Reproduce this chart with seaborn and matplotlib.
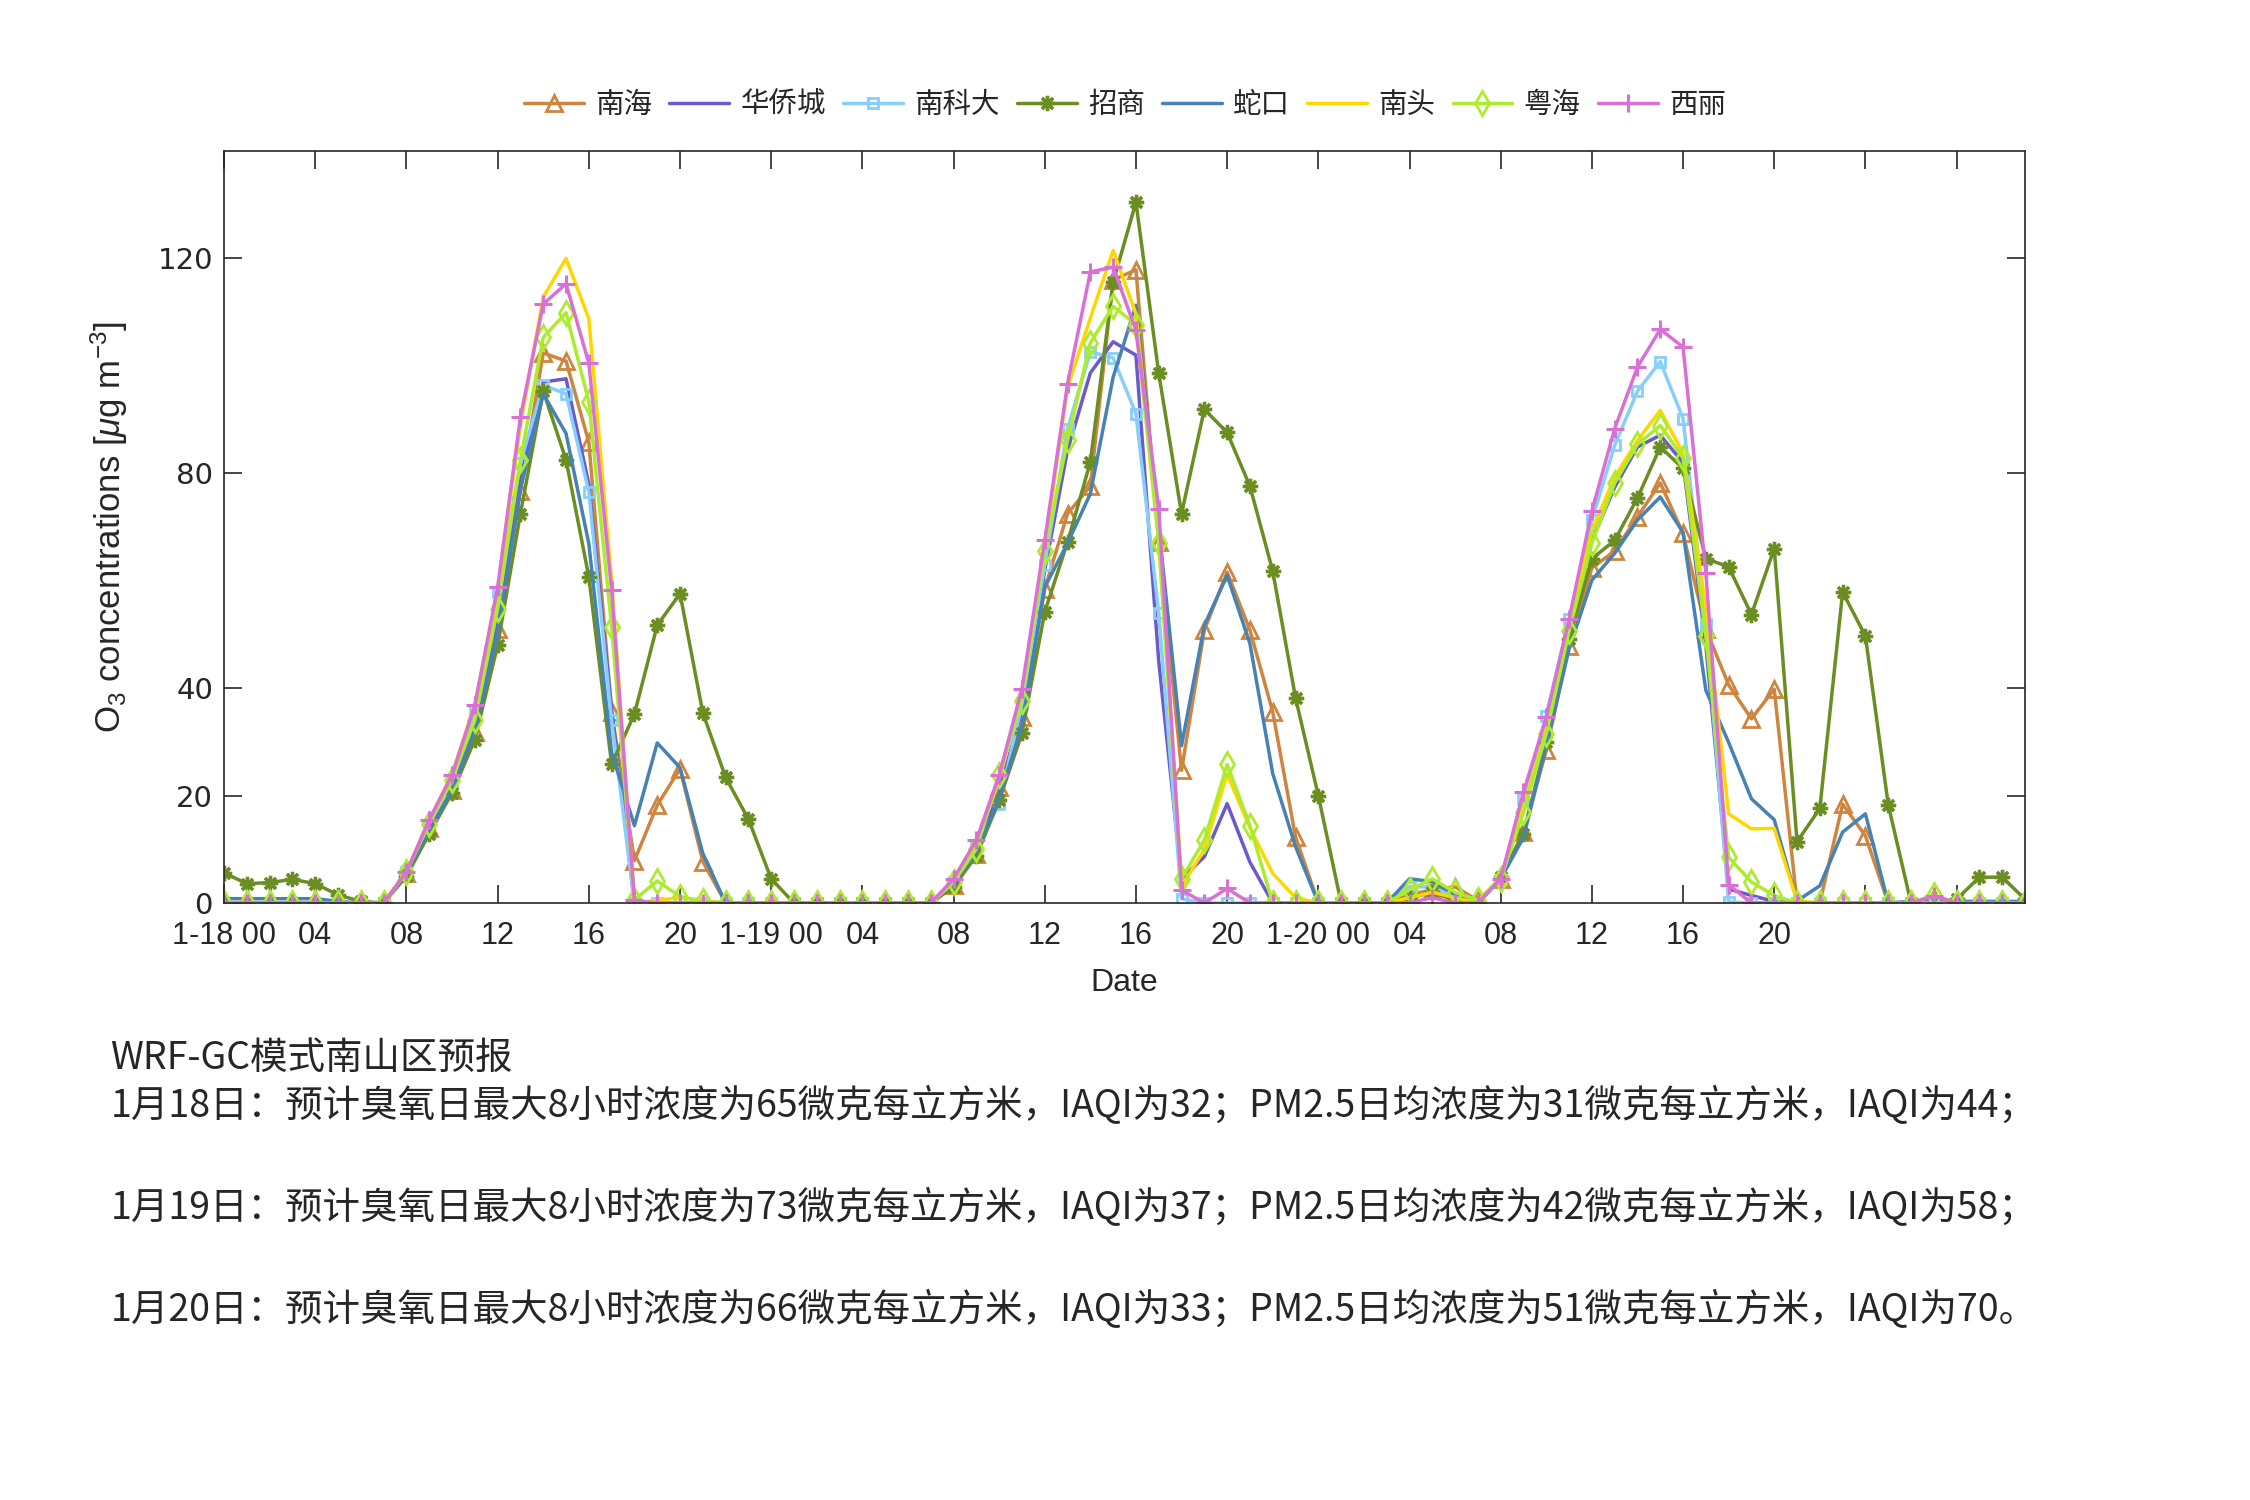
import matplotlib
matplotlib.use('Agg')
import matplotlib.pyplot as plt
import seaborn as sns

# ---------------- data ----------------
hours = list(range(80))
tick_pos = list(range(0, 80, 4))
tick_labels = ['1-18 00', '04', '08', '12', '16', '20',
               '1-19 00', '04', '08', '12', '16', '20',
               '1-20 00', '04', '08', '12', '16', '20', '', '']
y_ticks = [0, 20, 40, 80, 120]

nanhai = [0, 0, 0, 0, 0, 0, 0, 0,
          5.5, 13.9, 21.1, 31.8, 51.1, 76.8, 102.4, 100.9, 85.8, 35.6, 7.9, 18.2, 25.0, 7.7, 0,
          0, 0, 0, 0, 0, 0, 0, 0, 0,
          3.3, 9.1, 21.6, 34.7, 58.5, 72.5, 77.6, 116.0, 117.9, 67.2, 24.7, 50.8, 61.6, 50.8, 35.6, 12.3, 0,
          0, 0, 0,
          1.5, 2.5, 3.0, 0.5,
          4.5, 13.3, 28.4, 47.8, 62.4, 65.5, 71.9, 78.2, 68.8, 51.0, 40.6, 34.3, 39.8, 0, 0, 18.4, 12.5, 0, 0, 1.0,
          0, 0, 0, 0]
huaqiaocheng = [0, 0, 0, 0, 0, 0, 0, 0,
                5.8, 14.5, 22.5, 33.5, 53.0, 79.0, 97.0, 97.6, 78.0, 36.0, 0, 0, 0, 0, 0,
                0, 0, 0, 0, 0, 0, 0, 0, 0,
                4.0, 10.0, 20.5, 36.0, 62.0, 84.3, 98.7, 104.5, 102.0, 45.0, 4.5, 8.6, 18.5, 7.6, 0, 0, 0,
                0, 0, 0,
                1.0, 2.0, 1.0, 0,
                4.5, 18.0, 32.0, 50.0, 67.5, 77.4, 84.9, 87.1, 82.0, 48.0, 2.6, 1.4, 0.3, 0, 0, 0, 0, 0, 0, 0,
                0, 0, 0, 0]
nankeda = [0, 0, 0, 0, 0, 0, 0, 0,
           5.8, 14.5, 22.5, 36.0, 57.9, 82.0, 96.4, 94.8, 76.5, 34.0, 0, 0, 0, 0, 0,
           0, 0, 0, 0, 0, 0, 0, 0, 0,
           4.0, 10.5, 18.5, 37.0, 63.0, 88.3, 102.6, 101.5, 91.1, 54.0, 0.8, 0, 0, 0, 0, 0, 0,
           0, 0, 0,
           3.0, 3.0, 1.0, 0,
           4.5, 19.3, 34.9, 52.9, 71.3, 85.2, 95.3, 100.8, 90.2, 52.0, 0.2, 0, 0, 0, 0, 0, 0, 0, 0, 0,
           0, 0, 0, 0]
zhaoshang = [5.6, 3.6, 3.8, 4.4, 3.6, 1.5, 0.3, 0,
             5.0, 12.9, 20.5, 30.4, 48.0, 72.5, 95.3, 82.5, 60.7, 25.8, 35.2, 51.7, 57.6, 35.4, 23.4,
             15.6, 4.5, 0, 0, 0, 0, 0, 0, 0,
             3.0, 8.8, 19.1, 31.6, 54.2, 67.2, 82.1, 115.6, 130.5, 98.6, 72.5, 91.9, 87.6, 77.6, 61.8, 38.2, 20.0,
             0, 0, 0,
             1.0, 2.0, 0.5, 0,
             4.8, 12.9, 30.0, 49.2, 64.1, 67.5, 75.4, 84.9, 80.9, 64.1, 62.6, 53.7, 66.0, 11.4, 17.6, 57.9, 49.7, 18.3, 0, 0,
             0.7, 4.8, 4.8, 0.7]
shekou = [0.8, 0.8, 0.8, 0.8, 0.8, 0.3, 0, 0,
          5.5, 13.6, 21.0, 32.0, 50.0, 77.0, 94.8, 87.4, 66.9, 28.0, 14.4, 29.8, 25.2, 9.2, 0,
          0, 0, 0, 0, 0, 0, 0, 0, 0,
          3.5, 9.5, 19.5, 33.0, 58.8, 67.0, 76.2, 97.9, 111.3, 70.0, 29.3, 51.7, 61.0, 48.3, 24.1, 10.5, 0,
          0, 0, 0,
          4.5, 4.0, 1.5, 0,
          4.5, 12.2, 29.3, 47.3, 60.1, 65.1, 71.3, 75.6, 69.0, 39.6, 29.9, 19.4, 15.5, 0.4, 3.2, 13.2, 16.6, 0, 0.3, 0.3,
          0.3, 0.3, 0.3, 0.3]
nantou = [0, 0, 0, 0, 0, 0, 0, 0,
          5.8, 15.5, 24.0, 37.0, 58.0, 89.0, 112.8, 120.0, 108.8, 60.0, 0, 0.5, 1.0, 0.5, 0,
          0, 0, 0, 0, 0, 0, 0, 0, 0,
          4.0, 11.0, 23.0, 39.0, 66.0, 96.0, 108.9, 121.5, 109.7, 68.0, 3.0, 10.0, 24.0, 14.0, 5.5, 1.0, 0,
          0, 0, 0,
          1.0, 2.0, 1.0, 0,
          4.5, 18.0, 32.0, 51.0, 69.3, 79.3, 86.1, 91.7, 83.7, 55.0, 16.6, 13.8, 13.9, 0.4, 0, 0, 0, 0, 0, 0,
          0, 0, 0, 0]
yuehai = [0, 0, 0, 0, 0, 0, 0, 0,
          5.8, 14.8, 22.9, 34.1, 54.8, 82.5, 105.3, 109.9, 93.3, 51.4, 0.6, 4.1, 1.2, 0.3, 0,
          0, 0, 0, 0, 0, 0, 0, 0, 0,
          3.9, 10.1, 23.8, 37.7, 65.5, 86.2, 104.3, 111.1, 107.7, 67.0, 4.5, 11.7, 25.8, 14.4, 0, 0, 0,
          0, 0, 0,
          2.5, 4.5, 2.0, 0.5,
          4.5, 16.9, 31.5, 50.7, 67.0, 78.2, 85.4, 88.9, 82.9, 49.7, 8.5, 3.9, 1.4, 0, 0, 0, 0, 0, 0, 1.5,
          0, 0, 0, 0]
xili = [0, 0, 0, 0, 0, 0, 0, 0,
        5.8, 15.5, 23.8, 36.8, 58.8, 90.5, 111.5, 115.3, 100.5, 58.3, 0.5, 0, 0, 0, 0,
        0, 0, 0, 0, 0, 0, 0, 0, 0,
        4.5, 11.7, 23.8, 39.9, 67.5, 96.7, 117.5, 118.4, 106.6, 73.4, 2.4, 0, 2.7, 0, 0, 0, 0,
        0, 0, 0,
        0, 1.0, 0, 0,
        4.5, 20.6, 34.6, 52.8, 73.0, 88.3, 99.8, 106.8, 103.5, 61.5, 3.4, 0, 0, 0, 0, 0, 0, 0, 0, 1.3,
        0, 0, 0, 0]

station_names = ['南海', '华侨城', '南科大', '招商', '蛇口', '南头', '粤海', '西丽']
station_values = [nanhai, huaqiaocheng, nankeda, zhaoshang, shekou, nantou, yuehai, xili]

title_line = 'WRF-GC模式南山区预报'
forecast_lines = [
    '1月18日：预计臭氧日最大8小时浓度为65微克每立方米，IAQI为32；PM2.5日均浓度为31微克每立方米，IAQI为44；',
    '1月19日：预计臭氧日最大8小时浓度为73微克每立方米，IAQI为37；PM2.5日均浓度为42微克每立方米，IAQI为58；',
    '1月20日：预计臭氧日最大8小时浓度为66微克每立方米，IAQI为33；PM2.5日均浓度为51微克每立方米，IAQI为70。',
]

# ---------------- style ----------------
styles = [
    dict(color='#CD853F', marker='^', markersize=11, markerfacecolor='none', markeredgewidth=2.0),
    dict(color='#6A5ACD', marker=None),
    dict(color='#87CEFA', marker='s', markersize=7, markerfacecolor='none', markeredgewidth=2.0),
    dict(color='#6B8E23', marker=(8, 2, 0), markersize=11, markeredgewidth=2.4),
    dict(color='#4682B4', marker=None),
    dict(color='#FFD700', marker=None),
    dict(color='#ADEB2F', marker='d', markersize=12, markerfacecolor='none', markeredgewidth=2.0),
    dict(color='#DA70D6', marker='+', markersize=13, markeredgewidth=2.2),
]

sns.set_theme(style='ticks')
plt.rcParams['font.family'] = ['Liberation Sans', 'Noto Sans CJK SC', 'DejaVu Sans']
plt.rcParams['mathtext.fontset'] = 'custom'
plt.rcParams['mathtext.rm'] = 'Liberation Sans'
plt.rcParams['mathtext.it'] = 'Liberation Sans:italic'
txt_color = '#262626'

fig = plt.figure(figsize=(22.5, 15), dpi=100)
ax = fig.add_axes([0.0996, 0.398, 0.8004, 0.5013])

for name, vals, st in zip(station_names, station_values, styles):
    kw = dict(st)
    c = kw.pop('color')
    m = kw.pop('marker')
    if m is None:
        sns.lineplot(x=hours, y=vals, ax=ax, color=c, linewidth=2.5, label=name)
    else:
        sns.lineplot(x=hours, y=vals, ax=ax, color=c, linewidth=2.5, marker=m,
                     markeredgecolor=c, label=name, **kw)

handles, labels = ax.get_legend_handles_labels()
if ax.get_legend() is not None:
    ax.get_legend().remove()

ax.set_xlim(0, 79)
ax.set_ylim(0, 140)
ax.set_xticks(tick_pos)
ax.set_xticklabels(tick_labels, fontsize=22, color=txt_color, family='Liberation Sans')
ax.set_yticks(y_ticks)
ax.set_yticklabels([str(v) for v in y_ticks], fontsize=21, color=txt_color, family='DejaVu Sans')
ax.tick_params(direction='in', top=True, right=True, length=13, width=1.2, colors=txt_color,
               labelcolor=txt_color)
ax.tick_params(axis='x', pad=13)
ax.tick_params(axis='y', pad=8)
for sp in ax.spines.values():
    sp.set_visible(True)
    sp.set_linewidth(1.2)
    sp.set_color(txt_color)

ax.set_xlabel('Date', fontsize=23, color=txt_color, labelpad=12)
ax.set_ylabel(r'O$_3$ concentrations [$\mu$g m$^{-3}$]', fontsize=25, color=txt_color, labelpad=20)

fig.legend(handles, labels, loc='center', bbox_to_anchor=(0.5, 0.930), ncol=8, frameon=False,
           prop={'family': 'Noto Sans CJK SC', 'size': 20.5}, handlelength=2.1,
           handletextpad=0.4, columnspacing=0.6, labelcolor=txt_color)

cjk = ['Noto Sans CJK SC', 'DejaVu Sans']
fig.text(0.049, 0.2947, title_line, fontsize=27, family=cjk, color=txt_color, va='center')
for y, line in zip([0.262, 0.194, 0.126], forecast_lines):
    fig.text(0.049, y, line, fontsize=27, family=cjk, color=txt_color, va='center')

fig.savefig('out.png', dpi=100)
